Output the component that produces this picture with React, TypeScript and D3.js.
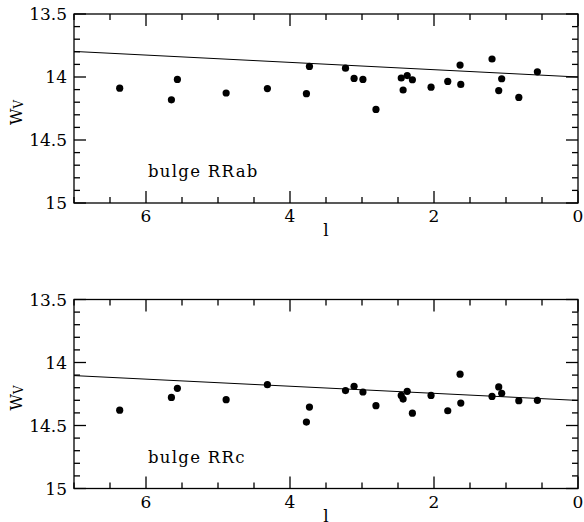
import React from "react";
import * as d3 from "d3";

// Galactic longitude l and W_V for bulge RRab
const rrabL = [6.365, 5.647, 5.564, 4.887, 4.314, 3.772, 3.730, 3.229, 3.110, 2.987, 2.806, 2.455, 2.429, 2.372, 2.300, 2.041, 1.809, 1.638, 1.628, 1.194, 1.101, 1.060, 0.822, 0.564];
const rrabW = [14.089, 14.181, 14.019, 14.127, 14.092, 14.132, 13.916, 13.930, 14.011, 14.019, 14.257, 14.008, 14.103, 13.989, 14.022, 14.081, 14.035, 13.905, 14.059, 13.857, 14.108, 14.014, 14.162, 13.959];

// bulge RRc
const rrcL = [6.365, 5.647, 5.564, 4.887, 4.314, 3.772, 3.730, 3.229, 3.110, 2.987, 2.806, 2.455, 2.429, 2.372, 2.300, 2.041, 1.809, 1.638, 1.628, 1.194, 1.101, 1.060, 0.822, 0.564];
const rrcW = [14.378, 14.277, 14.205, 14.295, 14.176, 14.473, 14.354, 14.223, 14.189, 14.234, 14.343, 14.261, 14.290, 14.229, 14.402, 14.261, 14.383, 14.093, 14.322, 14.269, 14.194, 14.245, 14.303, 14.300];

// fitted lines (value at l = 7 and l = 0)
const fitL = [7, 0];
const fitTopW = [13.797, 14.0];
const fitBotW = [14.104, 14.301];

const xDomain = [7, 0];
const yDomain = [13.5, 15];
const xMajorTicks = [6, 4, 2, 0];
const yMajorTicks = [13.5, 14, 14.5, 15];
const yTickLabels = ["13.5", "14", "14.5", "15"];
const xTickLabels = ["6", "4", "2", "0"];
const panelLabels = ["bulge RRab", "bulge RRc"];

const FONT = "'DejaVu Serif', 'Liberation Serif', serif";

const x = d3.scaleLinear().domain(xDomain).range([74, 578]);

function Panel({ top, bottom, ls, ws, fitW, label }: any) {
  const y = d3.scaleLinear().domain(yDomain).range([top, bottom]);
  const xMinor = [0, 1, 2, 3, 4, 5, 6, 7, 8, 9, 10, 11, 12, 13, 14].map((i) => i * 0.5);
  const yMinor = [0, 1, 2, 3, 4, 5, 6, 7, 8, 9, 10, 11, 12, 13, 14, 15].map((i) => 13.5 + i * 0.1);
  const [x0, x1] = x.range();
  const tw = 1.3;
  const line = d3.line<number>()
    .x((_, i) => x(fitL[i]))
    .y((v) => y(v));
  return (
    <g>
      {xMinor.map((v, i) => {
        const len = i % 4 === 0 ? 12 : 6;
        return (
          <React.Fragment key={"xt" + i}>
            <rect x={x(v) - tw / 2} y={bottom - len} width={tw} height={len} fill="#000" />
            <rect x={x(v) - tw / 2} y={top} width={tw} height={len} fill="#000" />
          </React.Fragment>
        );
      })}
      {yMinor.map((v, i) => {
        const len = i % 5 === 0 ? 12 : 6;
        return (
          <React.Fragment key={"yt" + i}>
            <rect x={x0} y={y(v) - tw / 2} width={len} height={tw} fill="#000" />
            <rect x={x1 - len} y={y(v) - tw / 2} width={len} height={tw} fill="#000" />
          </React.Fragment>
        );
      })}
      <rect x={x0} y={top} width={x1 - x0} height={bottom - top} fill="none" stroke="#000" strokeWidth={1.3} />
      {xMajorTicks.map((v, i) => (
        <text key={"xl" + v} x={x(v)} y={bottom + 19} textAnchor="middle" fontFamily={FONT} fontSize={17}>
          {xTickLabels[i]}
        </text>
      ))}
      {yMajorTicks.map((v, i) => (
        <text key={"yl" + v} x={67} y={y(v)} dy="0.36em" textAnchor="end" fontFamily={FONT} fontSize={17}>
          {yTickLabels[i]}
        </text>
      ))}
      <text x={(x0 + x1) / 2} y={bottom + 33} textAnchor="middle" fontFamily={FONT} fontSize={17}>l</text>
      <text transform={`translate(22, ${(top + bottom) / 2 + 4}) rotate(-90)`} textAnchor="middle" fontFamily={FONT} fontSize={16}>
        W<tspan fontSize={12} dy="1">V</tspan>
      </text>
      <text x={148} y={bottom - 26} fontFamily={FONT} fontSize={16.5} letterSpacing={1.3}>{label}</text>
      <path d={line(fitW) || ""} fill="none" stroke="#000" strokeWidth={1} />
      {ls.map((l: number, i: number) => (
        <circle key={"p" + i} cx={x(l)} cy={y(ws[i])} r={3.6} fill="#000" />
      ))}
    </g>
  );
}

export default function App() {
  return (
    <svg width={584} height={522} style={{ position: "absolute", left: 0, top: 0, background: "#fff" }}>
      <rect x={0} y={0} width={584} height={522} fill="#fff" />
      <Panel top={14} bottom={203} ls={rrabL} ws={rrabW} fitW={fitTopW} label={panelLabels[0]} />
      <Panel top={299.5} bottom={488.5} ls={rrcL} ws={rrcW} fitW={fitBotW} label={panelLabels[1]} />
    </svg>
  );
}
